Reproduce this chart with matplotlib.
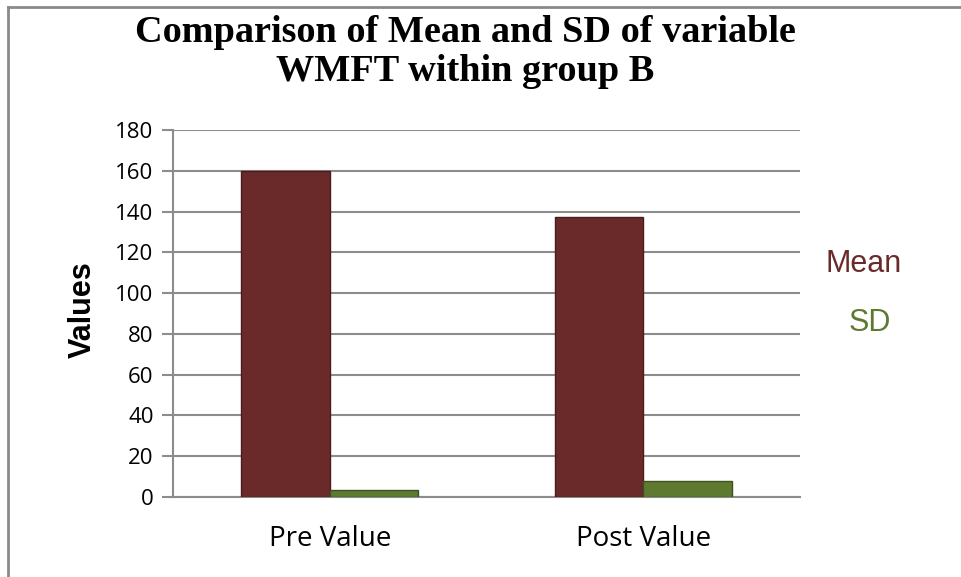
import numpy as np
import matplotlib.pyplot as plt
from matplotlib.lines import Line2D

# dados do grafico
categorias = ['Pre Value', 'Post Value']
media = [160, 137.4]
desvio = [3.5, 7.9]
ticks_y = [0, 20, 40, 60, 80, 100, 120, 140, 160, 180]

cor_media = '#6B2A2A'
cor_sd = '#5E7A30'
cor_grade = '#8C8C8C'

fig = plt.figure(figsize=(9.62, 5.77), dpi=100)
ax = fig.add_axes([173 / 962, 1 - 497 / 577, 627 / 962, 367 / 577])

x = np.arange(len(categorias))
w = 0.283
ax.bar(x - w / 2, media, width=w, color=cor_media, edgecolor='#4A1C1C', linewidth=1.0, zorder=3)
ax.bar(x + w / 2, desvio, width=w, color=cor_sd, edgecolor='#3E5220', linewidth=1.0, zorder=3)

ax.set_xlim(-0.5, 1.5)
ax.set_ylim(0, 180)
ax.set_yticks(ticks_y)
ax.set_yticklabels([str(t) for t in ticks_y], fontfamily='Open Sans', fontsize=16)
ax.set_xticks(x)
ax.set_xticklabels(categorias, fontfamily='Open Sans', fontsize=20)
ax.tick_params(axis='y', length=8, width=1.5, color=cor_grade, pad=6)
ax.tick_params(axis='x', length=0, pad=20)

ax.yaxis.grid(True, color=cor_grade, linewidth=1.5, zorder=0)
ax.set_axisbelow(True)
for lado in ['top', 'right']:
    ax.spines[lado].set_visible(False)
ax.spines['left'].set_color(cor_grade)
ax.spines['left'].set_linewidth(1.5)
ax.spines['bottom'].set_color(cor_grade)
ax.spines['bottom'].set_linewidth(1.5)

# rotulo do eixo y
fig.text(83 / 962, 1 - 310 / 577, 'Values', rotation=90, ha='center', va='center',
         fontfamily='Liberation Sans', fontweight='bold', fontsize=22)

# titulo
fig.text(465 / 962, 1 - 52 / 577, 'Comparison of Mean and SD of variable\nWMFT within group B',
         ha='center', va='center', fontfamily='Liberation Serif', fontweight='bold',
         fontsize=27.5, linespacing=1.15)

# legenda so com texto colorido
fig.text(864 / 962, 1 - 264 / 577, 'Mean', ha='center', va='center',
         fontfamily='Liberation Sans', fontsize=22, color=cor_media)
fig.text(870 / 962, 1 - 323 / 577, 'SD', ha='center', va='center',
         fontfamily='Liberation Sans', fontsize=22, color=cor_sd)

# borda do grafico
fig.add_artist(Line2D([8 / 962, 8 / 962], [0, 1 - 7 / 577], color='#8A8A8A', linewidth=2))
fig.add_artist(Line2D([8 / 962, 1], [1 - 7 / 577, 1 - 7 / 577], color='#8A8A8A', linewidth=2))

fig.savefig('out.png', dpi=100)
